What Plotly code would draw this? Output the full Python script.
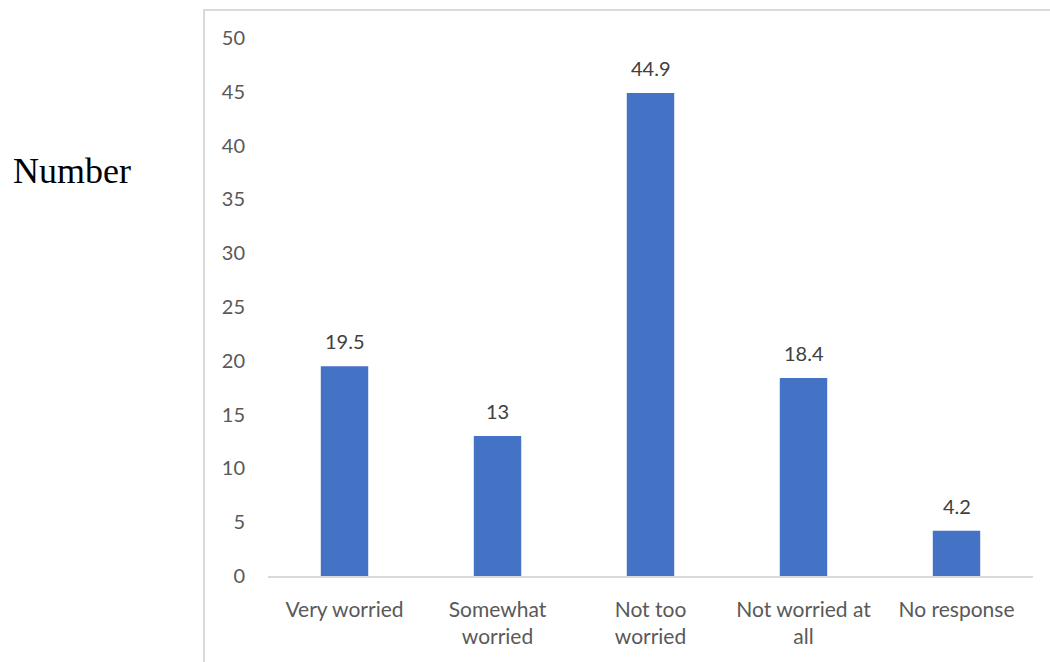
import plotly.graph_objects as go

categories = ["Very worried", "Somewhat<br>worried", "Not too<br>worried", "Not worried at<br>all", "No response"]
values = [19.5, 13, 44.9, 18.4, 4.2]
labels = ["19.5", "13", "44.9", "18.4", "4.2"]
y_ticks = [0, 5, 10, 15, 20, 25, 30, 35, 40, 45, 50]

W, H = 1050, 662
L, R, T, B = 268, 1033, 38, 576

def px(x):
    return (x - L) / (R - L)

def py(y):
    return (B - y) / (B - T)

FONT = "Lato"
FS = 21

fig = go.Figure(go.Bar(
    x=categories, y=values,
    marker=dict(color="#4472C4", line=dict(width=0)),
))

annotations = [
    dict(text=t, x=c, y=v, xref="x", yref="y", yanchor="middle", yshift=25,
         showarrow=False, font=dict(family=FONT, size=FS - 1, color="#404040"))
    for c, v, t in zip(categories, values, labels)
]
annotations.append(
    dict(text="Number", xref="paper", yref="paper", x=px(11), y=py(171),
         xanchor="left", yanchor="middle", showarrow=False,
         font=dict(family="Liberation Serif", size=36, color="black"))
)

fig.update_layout(
    width=W, height=H,
    margin=dict(l=L, r=W - R, t=T, b=H - B),
    paper_bgcolor="white", plot_bgcolor="white",
    bargap=0.69, showlegend=False,
    font=dict(family=FONT, size=FS, color="#595959"),
    xaxis=dict(showline=True, linecolor="#D9D9D9", linewidth=1.5,
               showgrid=False, ticks="", ticklabelstandoff=14,
               tickfont=dict(family=FONT, size=FS, color="#595959")),
    yaxis=dict(range=[0, 50], tickvals=y_ticks, showgrid=False, zeroline=False,
               showline=False, ticks="", ticklabelstandoff=22,
               tickfont=dict(family=FONT, size=FS - 1, color="#595959")),
    shapes=[
        dict(type="line", xref="paper", yref="paper", x0=px(204), x1=px(1052), y0=py(10), y1=py(10),
             line=dict(color="#D9D9D9", width=2)),
        dict(type="line", xref="paper", yref="paper", x0=px(204), x1=px(204), y0=py(9), y1=py(665),
             line=dict(color="#D9D9D9", width=2)),
    ],
    annotations=annotations,
)

fig.write_html("out.html")
